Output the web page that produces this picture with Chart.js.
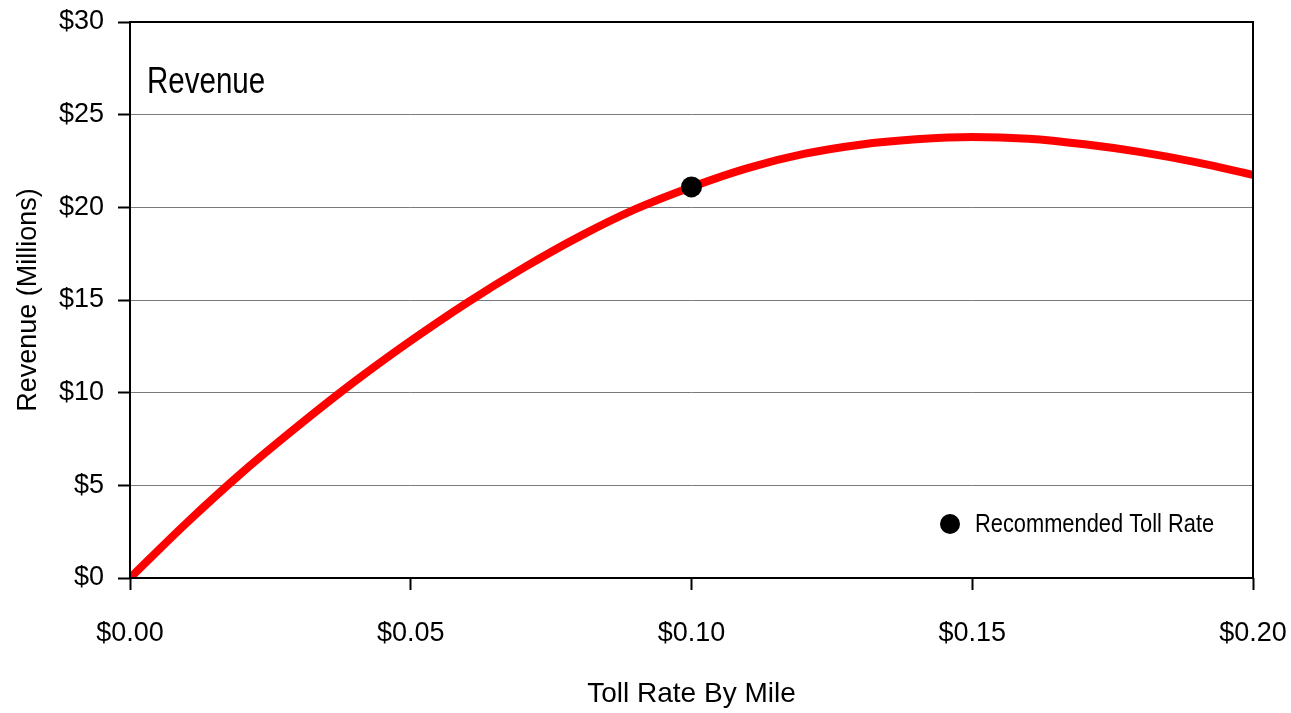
<!DOCTYPE html>
<html>
<head>
<meta charset="utf-8">
<script src="https://cdn.jsdelivr.net/npm/chart.js@4/dist/chart.umd.min.js"></script>
<style>
  html, body { margin: 0; padding: 0; background: #fff; }
  #wrap { width: 1291px; height: 713px; }
</style>
</head>
<body>
<div id="wrap"><canvas id="c" width="1291" height="713"></canvas></div>
<script>
// Toll rate per mile ($) and projected annual revenue ($ millions)
const tollRates = [0.00, 0.01, 0.02, 0.03, 0.04, 0.05, 0.06, 0.07, 0.08, 0.09, 0.10,
                   0.11, 0.12, 0.13, 0.14, 0.15, 0.16, 0.17, 0.18, 0.19, 0.20];
const revenue   = [0.00, 2.95, 5.70, 8.22, 10.60, 12.80, 14.85, 16.72, 18.42, 19.90, 21.10,
                   22.12, 22.88, 23.38, 23.67, 23.80, 23.70, 23.40, 22.98, 22.43, 21.75];

// Recommended toll rate point
const recommendedRate = [0.10];
const recommendedRevenue = [21.10];

// Axis tick values
const xTicks = [0, 0.05, 0.10, 0.15, 0.20];
const yTicks = [0, 5, 10, 15, 20, 25, 30];

const SANS = '"Liberation Sans", Arial, sans-serif';

// Draw text squeezed horizontally to give a narrow typeface look
function narrowText(ctx, text, x, y, size, squeeze) {
  ctx.save();
  ctx.translate(x, y);
  ctx.scale(squeeze, 1);
  ctx.font = size + 'px ' + SANS;
  ctx.fillText(text, 0, 0);
  ctx.restore();
}

const frameAndLabels = {
  id: 'frameAndLabels',
  afterDatasetsDraw(chart) {
    const { ctx, chartArea: a } = chart;
    ctx.save();
    // plot frame
    ctx.strokeStyle = '#000';
    ctx.lineWidth = 2;
    ctx.strokeRect(a.left, a.top, a.right - a.left, a.bottom - a.top);

    // panel heading
    ctx.fillStyle = '#000';
    ctx.textAlign = 'left';
    ctx.textBaseline = 'alphabetic';
    narrowText(ctx, 'Revenue', a.left + 17, a.top + 71, 36, 0.82);

    // legend for the recommended point
    const ds = chart.data.datasets[1];
    const lx = a.right - 303, ly = a.bottom - 54;
    ctx.beginPath();
    ctx.arc(lx, ly, 10, 0, Math.PI * 2);
    ctx.fillStyle = '#000';
    ctx.fill();
    ctx.textBaseline = 'middle';
    narrowText(ctx, ds.label, lx + 25, ly + 1, 26, 0.84);
    ctx.restore();
  }
};

new Chart(document.getElementById('c'), {
  type: 'line',
  data: {
    datasets: [
      {
        label: 'Revenue',
        data: tollRates.map((x, i) => ({ x, y: revenue[i] })),
        borderColor: '#ff0000',
        borderWidth: 8,
        pointRadius: 0,
        cubicInterpolationMode: 'monotone',
        fill: false,
        order: 2
      },
      {
        label: 'Recommended Toll Rate',
        data: recommendedRate.map((x, i) => ({ x, y: recommendedRevenue[i] })),
        showLine: false,
        pointRadius: 10.5,
        pointBackgroundColor: '#000',
        pointBorderColor: '#000',
        pointBorderWidth: 0,
        order: 1
      }
    ]
  },
  options: {
    responsive: false,
    animation: false,
    events: [],
    layout: { padding: { top: 22, right: 38, left: 0, bottom: 0 } },
    plugins: { legend: { display: false }, tooltip: { enabled: false } },
    scales: {
      x: {
        type: 'linear',
        min: 0, max: 0.2,
        afterBuildTicks: s => { s.ticks = xTicks.map(v => ({ value: v })); },
        afterFit: s => { s.height = 135; s.paddingLeft = 0; s.paddingRight = 0; },
        ticks: {
          color: '#000',
          font: { family: SANS, size: 27 },
          padding: 27,
          maxRotation: 0,
          callback: v => '$' + Number(v).toFixed(2)
        },
        grid: { drawOnChartArea: false, drawTicks: true, tickLength: 12, tickColor: '#000', tickWidth: 2 },
        border: { display: false },
        title: {
          display: true,
          text: 'Toll Rate By Mile',
          color: '#000',
          font: { family: SANS, size: 28 },
          padding: { top: 0, bottom: 2 }
        }
      },
      y: {
        min: 0, max: 30,
        afterBuildTicks: s => { s.ticks = yTicks.map(v => ({ value: v })); },
        afterFit: s => { s.width = 130; s.paddingTop = 0; s.paddingBottom = 0; },
        ticks: {
          color: '#000',
          font: { family: SANS, size: 27 },
          padding: 14,
          callback: v => '$' + v
        },
        grid: {
          color: '#7a7a7a',
          lineWidth: 1,
          drawTicks: true,
          tickLength: 12,
          tickColor: '#000',
          tickWidth: 2
        },
        border: { display: false },
        title: {
          display: true,
          text: 'Revenue (Millions)',
          color: '#000',
          font: { family: SANS, size: 27 },
          padding: { top: 12, bottom: 0 }
        }
      }
    }
  },
  plugins: [frameAndLabels]
});
</script>
</body>
</html>
